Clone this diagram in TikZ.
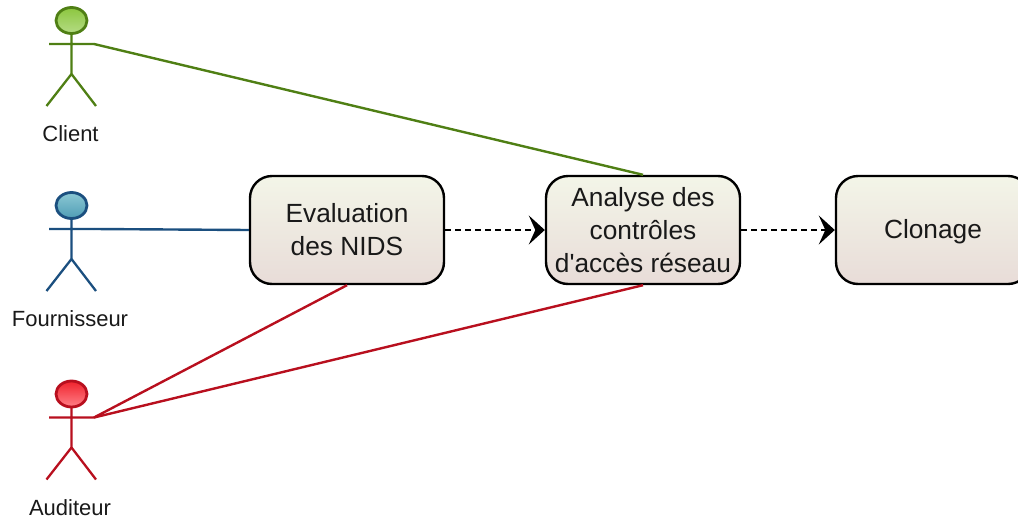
\documentclass[tikz,border=0pt]{standalone}
\usepackage{fontspec}
\setmainfont[Ligatures=TeXOff]{Liberation Sans}
\usetikzlibrary{arrows.meta}
\definecolor{cgreen}{HTML}{4F7F14}
\definecolor{cgreenA}{HTML}{8CC63F}
\definecolor{cgreenB}{HTML}{B5DC85}
\definecolor{cblue}{HTML}{1B4F7F}
\definecolor{cblueA}{HTML}{8CC8D4}
\definecolor{cblueB}{HTML}{4F9DB5}
\definecolor{cred}{HTML}{B80F1E}
\definecolor{credA}{HTML}{F0232D}
\definecolor{credB}{HTML}{FF8088}
\definecolor{boxtop}{HTML}{F3F5E8}
\definecolor{boxbot}{HTML}{E8DCD8}
\tikzset{
  x=1pt,y=-1pt,
  boxnode/.style={draw=black,line width=2.4pt,rounded corners=22pt,top color=boxtop,bottom color=boxbot,
    minimum width=194pt,minimum height=108pt,inner sep=0pt,align=center,font=\fontsize{26.3}{33}\selectfont,text=black!90},
  actorlabel/.style={font=\fontsize{22}{26}\selectfont,text=black!90},
  limb/.style={line width=2.3pt},
  headring/.style={line width=2.8pt},
  link/.style={line width=2.4pt},
  flow/.style={line width=2.2pt,dash pattern=on 6pt off 4pt,-{Stealth[length=16pt,width=29pt,inset=6.5pt]}},
}
\newcommand{\stickman}[4]{% y offset, line, head top, head bottom
  \begin{scope}[yshift=-#1pt]
    \draw[headring,#2,top color=#3,bottom color=#4] (71.5,20.5) ellipse [x radius=15.5,y radius=13];
    \draw[limb,#2] (71.5,33.5) -- (71.5,74) (49,44) -- (94,44)
      (46.5,106) -- (71.5,74) -- (96,106);
  \end{scope}}
\begin{document}
\begin{tikzpicture}
\useasboundingbox (0,0) rectangle (1018,520);
\clip (0,0) rectangle (1018,520);
\stickman{0}{cgreen}{cgreenA}{cgreenB}
\stickman{185}{cblue}{cblueA}{cblueB}
\stickman{373.5}{cred}{credA}{credB}
\coordinate (hgreen) at (94,44);
\coordinate (hblue) at (94,229);
\coordinate (hred) at (94,417.5);
\node[actorlabel] (lclient) at (70.5,134) {Client};
\node[actorlabel] (lfour) at (70,319) {Fournisseur};
\node[actorlabel] (laud) at (70,508) {Auditeur};
\node[boxnode] (eval) at (347,230) {Evaluation\\des NIDS};
\node[boxnode] (ana) at (643,230) {Analyse des\\contrôles\\d'accès réseau};
\node[boxnode] (clo) at (933,230) {\raisebox{-2pt}[\height][\depth]{Clonage}};
\draw[link,cgreen] (hgreen) -- (ana.north);
\draw[link,cblue] (hblue) -- (eval.west);
\draw[link,cred] (hred) -- (eval.south);
\draw[link,cred] (hred) -- (ana.south);
\draw[flow] (eval.east) -- (ana.west);
\draw[flow] (ana.east) -- (clo.west);
\end{tikzpicture}
\end{document}
